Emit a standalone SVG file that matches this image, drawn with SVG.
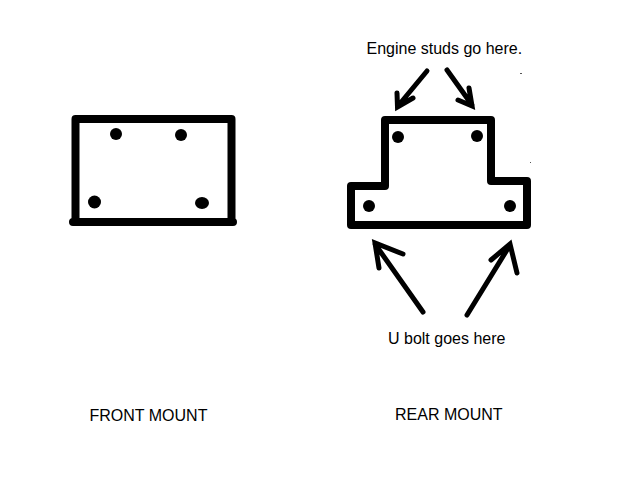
<svg xmlns="http://www.w3.org/2000/svg" width="640" height="480" viewBox="0 0 640 480">
<style>
.body{fill:none;stroke:#000;stroke-width:8;stroke-linecap:round;stroke-linejoin:round}
.arrow{fill:none;stroke:#000;stroke-width:5;stroke-linecap:round;stroke-linejoin:miter}
.dot{fill:#000}
.speck{fill:#555}
.label{font-family:"Liberation Sans",Arial,sans-serif;font-size:16px;fill:#000}
</style>
<rect width="640" height="480" fill="#fff"/>
<g id="front-mount">
<path class="body" d="M75.500 222V119H231.500V222M73 222H233"/>
<circle class="dot" cx="116" cy="134" r="6"/>
<circle class="dot" cx="181" cy="135" r="6"/>
<circle class="dot" cx="94.500" cy="202" r="6.500"/>
<ellipse class="dot" cx="202" cy="203" rx="7" ry="6"/>
</g>
<g id="rear-mount">
<path class="body" d="M385 186V120H491V181H527V225H351V186H385"/>
<circle class="dot" cx="398" cy="137" r="6"/>
<circle class="dot" cx="477" cy="136" r="6"/>
<circle class="dot" cx="369" cy="206" r="6"/>
<circle class="dot" cx="510" cy="206" r="6"/>
<rect x="520" y="73" width="2" height="1" class="speck"/>
<rect x="530" y="162" width="1" height="1" class="speck"/>
</g>
<g id="connectors">
<path class="arrow" d="M427 71L398 106M397 93L397.500 107L413 98"/>
<path class="arrow" d="M447 70L472 105M469 88L472 106L458 100"/>
<path class="arrow" d="M423 312L375 244M379 268L375 243L403 254"/>
<path class="arrow" d="M467 315L510 245M491 260L510 244L517 273"/>
</g>
<g id="labels">
<text class="label" x="366.500" y="54">Engine studs go here.</text>
<text class="label" x="388" y="344">U bolt goes here</text>
<text class="label" x="89.500" y="421">FRONT MOUNT</text>
<text class="label" x="395" y="420">REAR MOUNT</text>
</g>
</svg>
